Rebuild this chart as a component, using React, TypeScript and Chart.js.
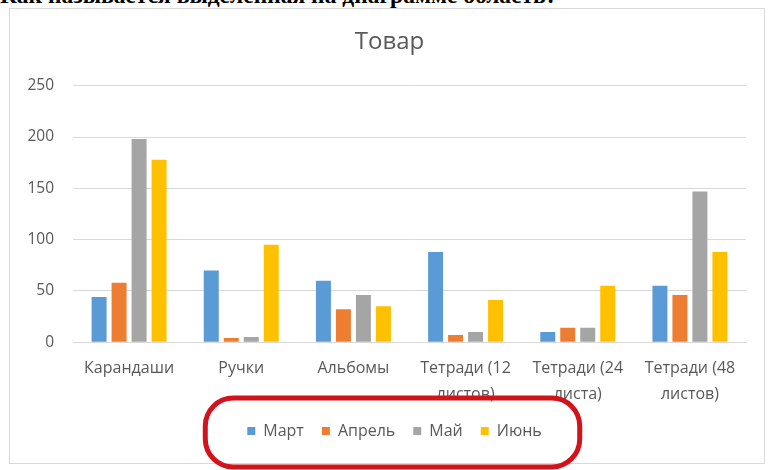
import React, { useEffect, useRef } from "react";
import { Chart, registerables } from "chart.js";

Chart.register(...registerables);

const categories: (string | string[])[] = [
  "Карандаши",
  "Ручки",
  "Альбомы",
  ["Тетради (12", "листов)"],
  ["Тетради (24", "листа)"],
  ["Тетради (48", "листов)"],
];
const seriesNames = ["Март", "Апрель", "Май", "Июнь"];
const march = [44, 70, 60, 88, 10, 55];
const april = [58, 4, 32, 7, 14, 46];
const may = [198, 5, 46, 10, 14, 147];
const june = [178, 95, 35, 41, 55, 88];
const colors = ["#5B9BD5", "#ED7D31", "#A5A5A5", "#FFC000"];
const titleText = "Товар";
const questionText = "Как называется выделенная на диаграмме область?";

const FONT = "'Open Sans', 'Noto Sans', sans-serif";

const highlightPlugin = {
  id: "legendHighlight",
  afterLayout(chart: any) {
    const lg = chart.legend;
    if (lg) {
      lg.left += 17;
      lg.right += 17;
    }
    const tb = chart.titleBlock;
    if (tb) {
      tb.left += 12;
      tb.right += 12;
    }
  },
  afterDraw(chart: any) {
    const lg = chart.legend;
    if (!lg || !lg.legendHitBoxes || !lg.legendHitBoxes.length) return;
    let minX = Infinity;
    let maxX = -Infinity;
    for (const b of lg.legendHitBoxes) {
      minX = Math.min(minX, b.left);
      maxX = Math.max(maxX, b.left + b.width);
    }
    const cx = (minX + maxX) / 2 - 2;
    const w = maxX - minX + 80;
    const x0 = cx - w / 2;
    const y0 = lg.top - 7;
    const y1 = chart.height - 3;
    const r = 28;
    const ctx = chart.ctx;
    ctx.save();
    ctx.strokeStyle = "#d3131c";
    ctx.lineWidth = 5;
    ctx.beginPath();
    ctx.roundRect(x0, y0, w, y1 - y0, r);
    ctx.stroke();
    ctx.restore();
  },
};

export default function App() {
  const ref = useRef<HTMLCanvasElement>(null);
  useEffect(() => {
    if (!ref.current) return;
    const data = [march, april, may, june];
    const chart = new Chart(ref.current, {
      type: "bar",
      data: {
        labels: categories as any,
        datasets: seriesNames.map((n, i) => ({
          label: n,
          data: data[i],
          backgroundColor: colors[i],
          borderWidth: 0,
          categoryPercentage: 0.713,
          barPercentage: 0.75,
        })),
      },
      options: {
        responsive: false,
        animation: false,
        layout: { padding: { left: 9, right: 27, top: 0, bottom: 21 } },
        plugins: {
          title: {
            display: true,
            text: titleText,
            color: "#595959",
            font: { family: FONT, size: 24, weight: "normal" },
            padding: { top: 28, bottom: 29 },
          },
          legend: {
            position: "bottom",
            labels: {
              boxWidth: 8,
              boxHeight: 8,
              padding: 18,
              color: "#595959",
              font: { family: FONT, size: 16 },
            },
          },
          tooltip: { enabled: false },
        },
        scales: {
          x: {
            afterFit: (scale: any) => {
              scale.height = scale.height - 15;
            },
            grid: { display: false, drawTicks: false },
            border: { display: true, color: "#d9d9d9" },
            ticks: {
              color: "#595959",
              padding: 13,
              maxRotation: 0,
              autoSkip: false,
              font: { family: FONT, size: 16, lineHeight: 1.62 },
            },
          },
          y: {
            min: 0,
            max: 250,
            afterFit: (scale: any) => {
              scale.width = 64;
            },
            grid: { color: "#d9d9d9", drawTicks: false },
            border: { display: false },
            ticks: {
              stepSize: 50,
              padding: 19,
              color: "#595959",
              font: { family: FONT, size: 15.5 },
            },
          },
        },
      },
      plugins: [highlightPlugin],
    });
    return () => chart.destroy();
  }, []);

  return (
    <div
      style={{
        position: "absolute",
        left: 0,
        top: 0,
        width: 773,
        height: 470,
        overflow: "hidden",
        background: "#ffffff",
      }}
    >
      <div
        style={{
          position: "absolute",
          left: 0,
          top: -18,
          whiteSpace: "nowrap",
          fontFamily: "'Liberation Serif', serif",
          fontWeight: "bold",
          fontSize: 23.5,
          color: "#000",
        }}
      >
        {questionText}
      </div>
      <div
        style={{
          position: "absolute",
          left: 9,
          top: 8,
          width: 756,
          height: 456,
          border: "1px solid #d9d9d9",
          boxSizing: "border-box",
        }}
      />
      <canvas
        ref={ref}
        width={773}
        height={470}
        style={{ position: "absolute", left: 0, top: 0, display: "block" }}
      />
    </div>
  );
}
